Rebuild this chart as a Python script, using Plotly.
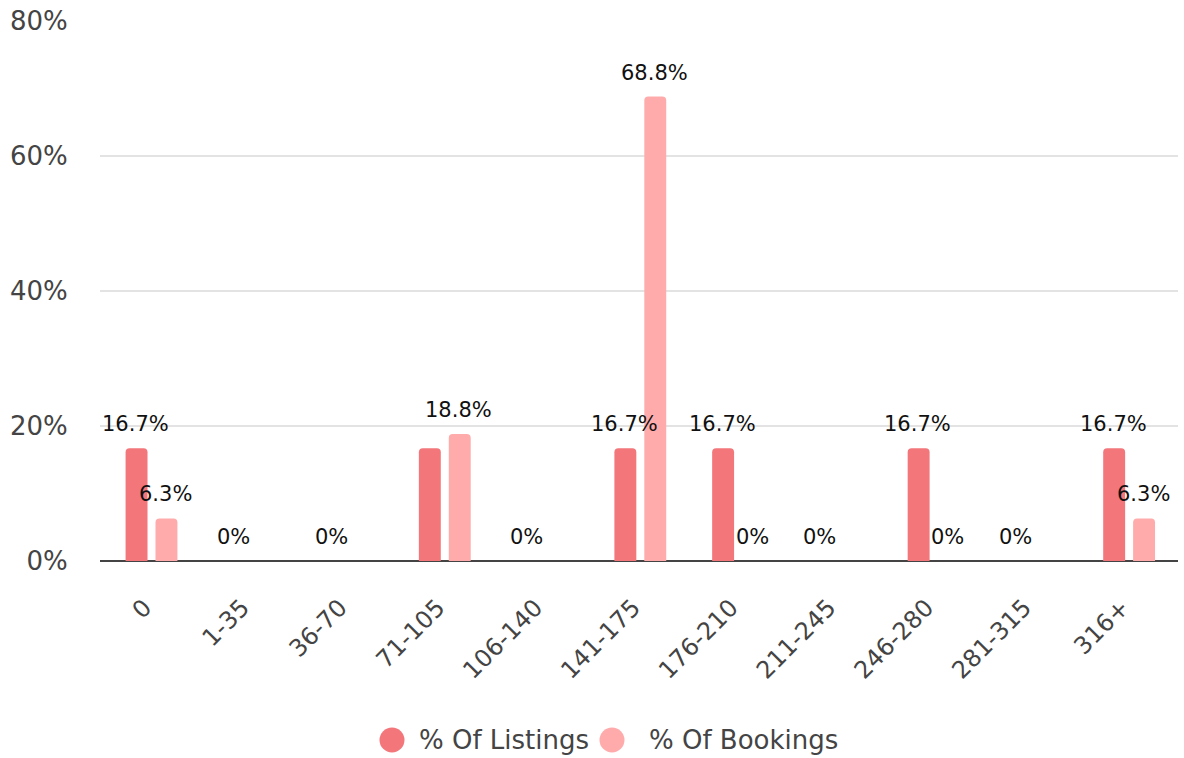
import plotly.graph_objects as go

categories = ["0", "1-35", "36-70", "71-105", "106-140", "141-175",
              "176-210", "211-245", "246-280", "281-315", "316+"]
series_names = ["% Of Listings", "% Of Bookings"]
listings = [16.7, 0, 0, 16.7, 0, 16.7, 16.7, 0, 16.7, 0, 16.7]
bookings = [6.3, 0, 0, 18.8, 0, 68.8, 0, 0, 0, 0, 6.3]
# which value labels are visible (overlapping ones are hidden in the reference)
show_listings = [1, 1, 1, 0, 1, 1, 1, 1, 1, 1, 1]
show_bookings = [1, 0, 0, 1, 0, 1, 1, 0, 1, 0, 1]
y_ticks = [0, 20, 40, 60, 80]
colors = ["#F3767B", "#FFABAB"]

FONT = "DejaVu Sans, Verdana, sans-serif"

fig = go.Figure()
for name, vals, col in zip(series_names, [listings, bookings], colors):
    fig.add_trace(go.Bar(x=categories, y=vals, name=name, marker_color=col,
                         marker_line_width=0, showlegend=False,
                         hovertemplate="%{x}: %{y}%<extra>" + name + "</extra>"))

annotations = []
for vals, shows, shift in [(listings, show_listings, -15), (bookings, show_bookings, 15)]:
    for c, v, s in zip(categories, vals, shows):
        if s:
            annotations.append(dict(x=c, y=v, xref="x", yref="y", text=f"{v:g}%",
                                    showarrow=False, xshift=shift - 1, yshift=10,
                                    yanchor="bottom", xanchor="center",
                                    font=dict(family=FONT, size=21, color="#111")))

# custom legend with big circles
PL, PR, PT, PB = 100, 6, 18, 197
W, H = 1184, 758
pw = W - PL - PR
ph = H - PT - PB
def px_x(px):
    return (px - PL) / pw
def px_y(py):
    return (H - PB - py) / ph

shapes = []
legend_circle_x = [392, 612]
legend_text_x = [417, 647]
ly = 741
for name, col, cx, tx in zip(series_names, colors, legend_circle_x, legend_text_x):
    shapes.append(dict(type="circle", xref="paper", yref="paper",
                       xsizemode="pixel", ysizemode="pixel",
                       xanchor=px_x(cx), yanchor=px_y(ly),
                       x0=-12.5, x1=12.5, y0=-12.5, y1=12.5,
                       fillcolor=col, line_width=0))
    annotations.append(dict(x=px_x(tx), y=px_y(ly), xref="paper", yref="paper",
                            text=name, showarrow=False, xanchor="left", yanchor="middle",
                            font=dict(family=FONT, size=26, color="#444")))

fig.update_layout(
    width=W, height=H,
    margin=dict(l=PL, r=PR, t=PT, b=PB, pad=0),
    paper_bgcolor="white", plot_bgcolor="white",
    barmode="group", bargap=0.388, bargroupgap=0.267,
    barcornerradius=4,
    font=dict(family=FONT, color="#444"),
    showlegend=False,
    annotations=annotations,
    shapes=shapes,
)
fig.update_xaxes(type="category", tickangle=-45, ticks="outside", ticklen=22,
                 tickcolor="rgba(0,0,0,0)", tickfont=dict(size=24, color="#444"),
                 ticklabelshift=-7,
                 showgrid=False, showline=False, zeroline=False)
fig.update_yaxes(range=[0, 80], tickmode="array", tickvals=y_ticks,
                 ticktext=[f"{t}%" for t in y_ticks],
                 ticks="outside", ticklen=26, tickcolor="rgba(0,0,0,0)",
                 tickfont=dict(size=26, color="#444"),
                 showgrid=True, gridcolor="#E3E3E3", gridwidth=1.5,
                 zeroline=True, zerolinecolor="#444", zerolinewidth=2,
                 showline=False)

fig.write_html("out.html", config={"displayModeBar": False},
               post_script="document.body.style.margin='0px';")
